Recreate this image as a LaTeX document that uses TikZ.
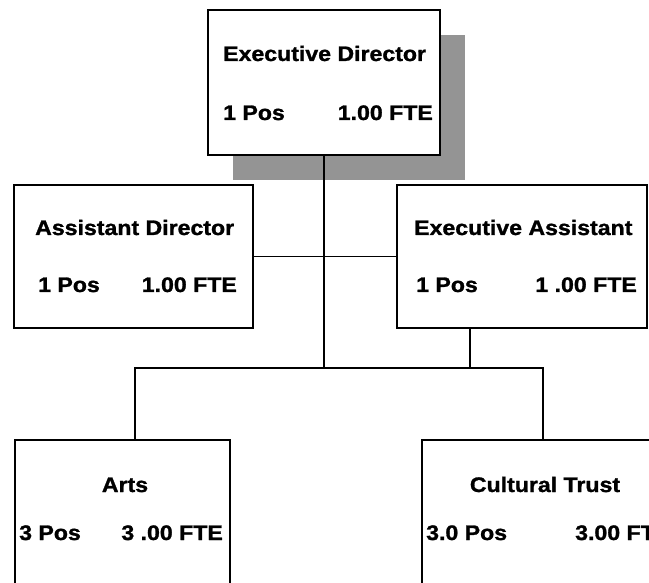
\documentclass[tikz,border=0pt]{standalone}
\usepackage{fontspec}
\setmainfont{Liberation Sans}[FakeStretch=1.1, BoldFeatures={FakeBold=1.3}]
\usetikzlibrary{shadows}
\begin{document}
\begin{tikzpicture}[x=1pt,y=-1pt,
  orgbox/.style={draw=black, line width=1.7pt, fill=white, inner sep=0pt},
  shadowbox/.style={orgbox, general shadow={fill=black!42, shadow xshift=25pt, shadow yshift=-25pt}},
  txt/.style={inner sep=0pt, font=\fontsize{21}{24}\selectfont\bfseries},
  link/.style={draw=black, line width=1.4pt}
]
\useasboundingbox (0,0) rectangle (649,583);
\clip (0,0) rectangle (649,583);
% boxes
\node[shadowbox, minimum width=232pt, minimum height=145pt] (ED) at (324,82.5) {};
\node[orgbox, minimum width=239pt, minimum height=143pt] (AD) at (133.5,256.5) {};
\node[orgbox, minimum width=250pt, minimum height=143pt] (EA) at (522,256.5) {};
\node[orgbox, minimum width=215pt, minimum height=170pt] (AR) at (122.5,525) {};
\node[orgbox, minimum width=260pt, minimum height=170pt] (CT) at (552,525) {};
% texts
\node[txt, anchor=base west] (edt) at (223,61) {Executive Director};
\node[txt, anchor=base west] (edp) at (223,120) {1 Pos};
\node[txt, anchor=base east] (edf) at (433,120) {1.00 FTE};
\node[txt, anchor=base west] (adt) at (35,235) {Assistant Director};
\node[txt, anchor=base west] (adp) at (38,292) {1 Pos};
\node[txt, anchor=base east] (adf) at (237,292) {1.00 FTE};
\node[txt, anchor=base west] (eat) at (414,235) {Executive Assistant};
\node[txt, anchor=base west] (eap) at (416,292) {1 Pos};
\node[txt, anchor=base east] (eaf) at (637,292) {1 .00 FTE};
\node[txt, anchor=base] (art) at (125,492) {Arts};
\node[txt, anchor=base west] (arp) at (19,540) {3 Pos};
\node[txt, anchor=base east] (arf) at (223,540) {3 .00 FTE};
\node[txt, anchor=base] (ctt) at (545,492) {Cultural Trust};
\node[txt, anchor=base west] (ctp) at (426,540) {3.0 Pos};
\node[txt, anchor=base west] (ctf) at (575,540) {3.00 FTE};
% connectors
\coordinate (busL) at (135,368);
\coordinate (busR) at (543,368);
\coordinate (eaj) at (470,368);
\draw[link] (ED.south) -- (ED.south |- busL);
\draw[link] (AD.east) -- (EA.west);
\draw[link] (eaj |- EA.south) -- (eaj);
\draw[link] (busL |- AR.north) -- (busL) -- (busR) -- (busR |- CT.north);
\end{tikzpicture}
\end{document}
